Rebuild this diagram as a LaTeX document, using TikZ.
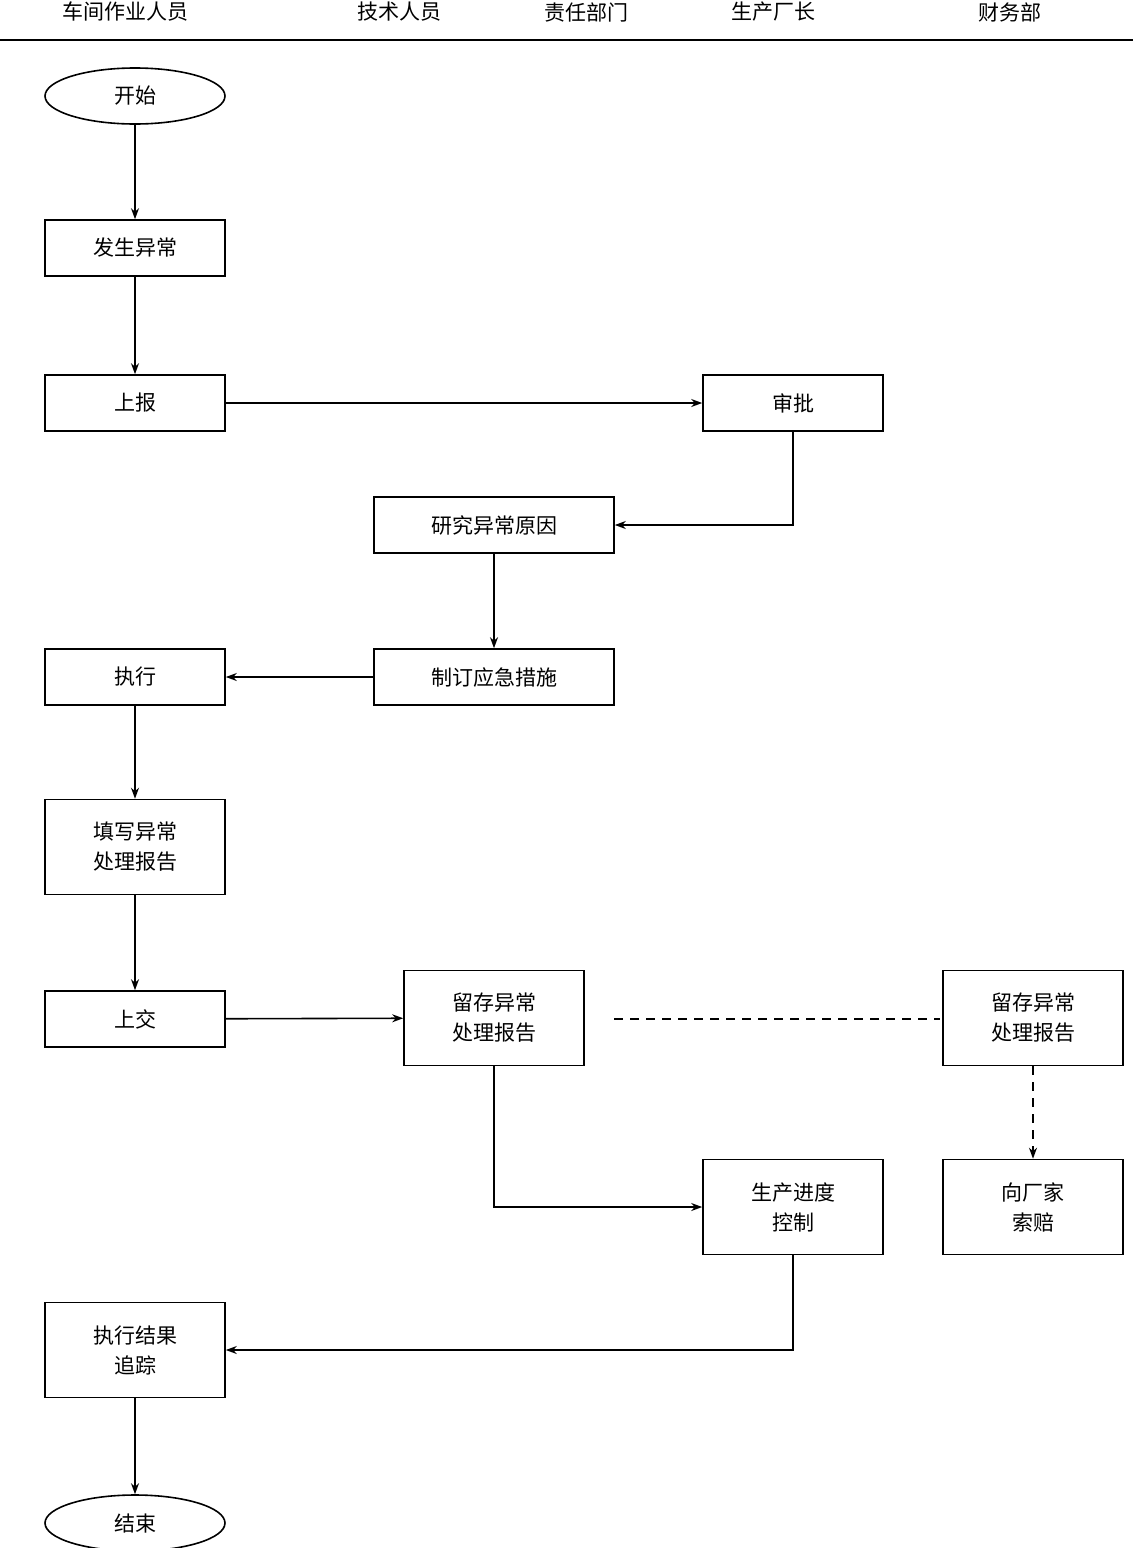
\documentclass[tikz,border=0pt]{standalone}
\usepackage{fontspec}
\newfontfamily\cjk{Noto Sans CJK SC}
\usetikzlibrary{shapes.geometric,arrows.meta}
\begin{document}
\begin{tikzpicture}[x=1pt,y=-1pt,
  every node/.style={font=\cjk\fontsize{21}{30}\selectfont},
  box/.style={draw,line width=1.6pt,minimum width=180pt,minimum height=56pt,align=center,inner sep=0pt},
  tall/.style={box,minimum height=95pt},
  wide/.style={box,minimum width=240pt},
  term/.style={draw,ellipse,line width=1.6pt,minimum width=180pt,minimum height=56pt,inner sep=0pt},
  arr/.style={line width=1.6pt,-{Stealth[length=11pt,width=8pt]}},
  hdr/.style={font=\cjk\fontsize{21}{24}\selectfont}]
\useasboundingbox (0,0) rectangle (1133,1548);
\node[hdr] (h1) at (125,12) {车间作业人员};
\node[hdr] (h2) at (399,12) {技术人员};
\node[hdr] (h3) at (586,12) {责任部门};
\node[hdr] (h4) at (773,12) {生产厂长};
\node[hdr] (h5) at (1010,12) {财务部};
\coordinate (l1) at (0,40); \coordinate (l2) at (1133,40);
\draw[line width=1.6pt] (l1) -- (l2);
\node[term] (start) at (135,96) {开始};
\node[box] (fs) at (135,248) {发生异常};
\node[box] (sb) at (135,403) {上报};
\node[box] (sp) at (793,403) {审批};
\node[wide] (yj) at (494,525) {研究异常原因};
\node[wide] (zd) at (494,677) {制订应急措施};
\node[box] (zx) at (135,677) {执行};
\node[tall] (tx) at (135,847) {填写异常\\处理报告};
\node[box] (sj) at (135,1019) {上交};
\node[tall] (lc1) at (494,1018) {留存异常\\处理报告};
\node[tall] (lc2) at (1033,1018) {留存异常\\处理报告};
\node[tall] (sc) at (793,1207) {生产进度\\控制};
\node[tall] (sp2) at (1033,1207) {向厂家\\索赔};
\node[tall] (zz) at (135,1350) {执行结果\\追踪};
\node[term] (end) at (135,1523) {结束};
\draw[arr] (start) -- (fs);
\draw[arr] (fs) -- (sb);
\draw[arr] (sb) -- (sp);
\draw[arr] (sp.south) |- (yj.east);
\draw[arr] (yj) -- (zd);
\draw[arr] (zd) -- (zx);
\draw[arr] (zx) -- (tx);
\draw[arr] (tx) -- (sj);
\draw[arr] (sj) -- (lc1);
\coordinate (d1) at (614,1019); \coordinate (d2) at (940,1019);
\draw[line width=1.6pt,dash pattern=on 9pt off 7pt] (d1) -- (d2);
\draw[arr,dash pattern=on 9pt off 7pt] (lc2) -- (sp2);
\draw[arr] (lc1.south) |- (sc.west);
\draw[arr] (sc.south) |- (zz.east);
\draw[arr] (zz) -- (end);
\end{tikzpicture}
\end{document}
